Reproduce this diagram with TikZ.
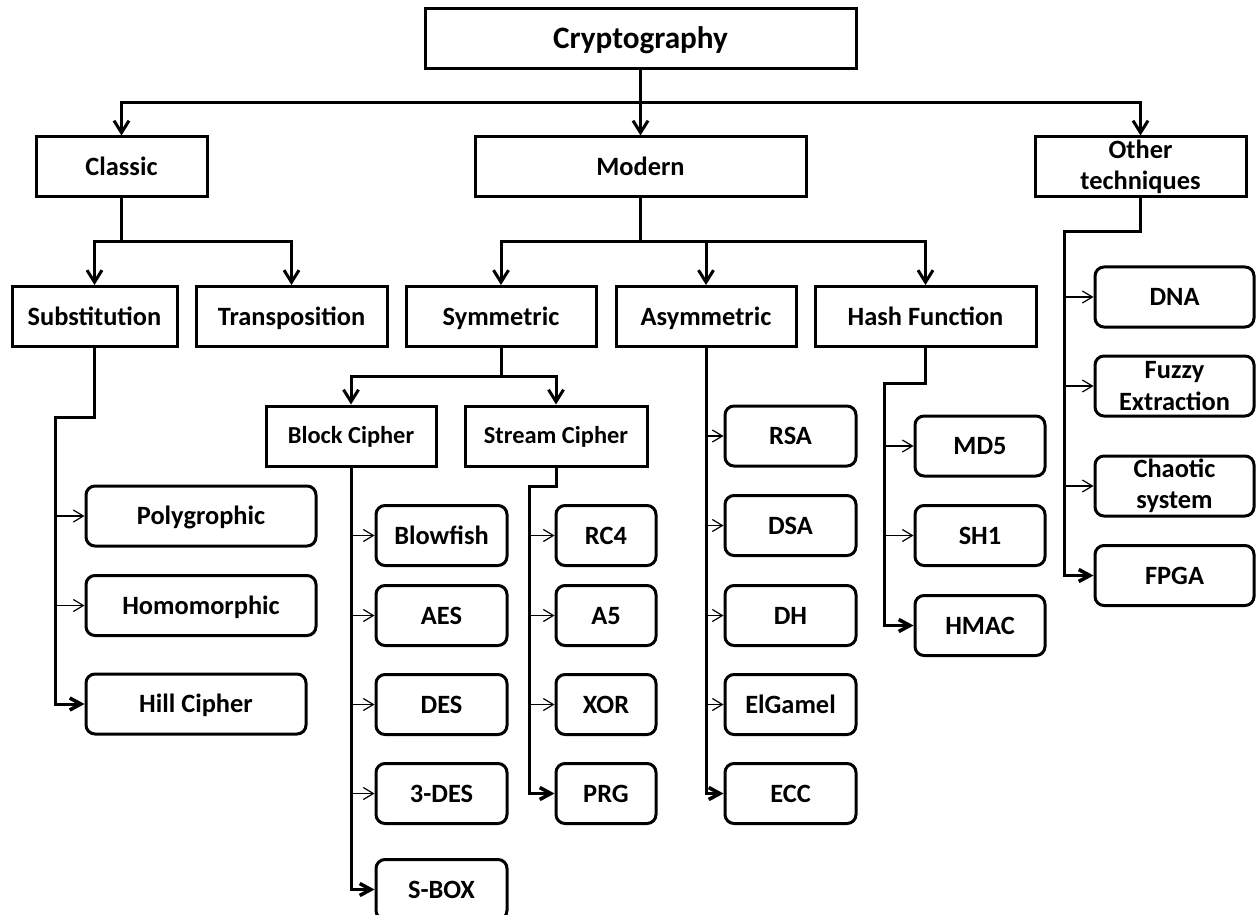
\documentclass[tikz,border=0pt]{standalone}
\usepackage{fontspec}
\setmainfont{Carlito}
\usetikzlibrary{arrows.meta}

\begin{document}
\begin{tikzpicture}[x=0.5pt,y=-0.5pt,
  box/.style={draw,line width=1.5pt,minimum height=30pt,inner sep=1pt,align=center,text height=8.5pt,text depth=0pt,font=\fontsize{13.2}{15.6}\selectfont\bfseries},
  leaf/.style={box,rounded corners=4.5pt},
  two/.style={text height={},text depth={}},
  small/.style={text height=7.9pt,font=\fontsize{12.2}{14.6}\selectfont\bfseries},
  trunk/.style={line width=1.5pt},
  down/.style={trunk,-{Straight Barb[length=6pt,width=7.5pt]}},
  last/.style={trunk,-{Straight Barb[length=5.5pt,width=6pt,line width=1.8pt]}},
  twig/.style={line width=0.6pt,-{Straight Barb[length=5pt,width=6pt]}}]
\useasboundingbox (0,0) rectangle (1256,914);
% levels 0 and 1
\node[box,minimum width=215.5pt,text height=10pt,font=\fontsize{15.6}{18}\selectfont\bfseries] (crypto) at (640.5,39) {Cryptography};
\node[box,minimum width=85.5pt] (classic) at (121.5,167) {Classic};
\node[box,minimum width=165.5pt] (modern) at (640.5,167) {Modern};
\node[box,two,minimum width=105.5pt] (other) at (1140.5,167) {Other\\techniques};
% level 2
\node[box,minimum width=82.5pt] (subst) at (94.5,316.5) {Substitution};
\node[box,minimum width=95.5pt] (transp) at (291.5,316.5) {Transposition};
\node[box,minimum width=95pt] (symm) at (501,316.5) {Symmetric};
\node[box,minimum width=90pt] (asymm) at (706,316.5) {Asymmetric};
\node[box,minimum width=110.5pt] (hash) at (925.5,316.5) {Hash Function};
\node[box,small,minimum width=85pt] (block) at (351,436) {Block Cipher};
\node[box,small,minimum width=91pt] (stream) at (556,436) {Stream Cipher};
% leaves
\node[leaf,minimum width=115pt] (poly) at (201,516) {Polygrophic};
\node[leaf,minimum width=115pt] (homo) at (201,605.5) {Homomorphic};
\node[leaf,minimum width=110pt] (hill) at (196,704) {Hill Cipher};
\node[leaf,minimum width=65.5pt] (blow) at (441.5,535.5) {Blowfish};
\node[leaf,minimum width=65.5pt] (aes) at (441.5,615.5) {AES};
\node[leaf,minimum width=65.5pt] (des) at (441.5,704.5) {DES};
\node[leaf,minimum width=65.5pt] (tdes) at (441.5,793.5) {3-DES};
\node[leaf,minimum width=65.5pt] (sbox) at (441.5,889.5) {S-BOX};
\node[leaf,minimum width=50pt] (rc4) at (606,535.5) {RC4};
\node[leaf,minimum width=50pt] (a5) at (606,615.5) {A5};
\node[leaf,minimum width=50pt] (xor) at (606,704.5) {XOR};
\node[leaf,minimum width=50pt] (prg) at (606,793.5) {PRG};
\node[leaf,minimum width=65.5pt] (rsa) at (790.5,436) {RSA};
\node[leaf,minimum width=65.5pt] (dsa) at (790.5,525.5) {DSA};
\node[leaf,minimum width=65.5pt] (dh) at (790.5,615.5) {DH};
\node[leaf,minimum width=65.5pt] (elg) at (790.5,704.5) {ElGamel};
\node[leaf,minimum width=65.5pt] (ecc) at (790.5,793.5) {ECC};
\node[leaf,minimum width=65pt] (md5) at (980,446) {MD5};
\node[leaf,minimum width=65pt] (sh1) at (980,535.5) {SH1};
\node[leaf,minimum width=65pt] (hmac) at (980,625.5) {HMAC};
\node[leaf,minimum width=79.5pt] (dna) at (1174.5,297) {DNA};
\node[leaf,two,minimum width=79.5pt] (fuzzy) at (1174.5,386) {Fuzzy\\Extraction};
\node[leaf,two,minimum width=79.5pt] (chaotic) at (1174.5,486) {Chaotic\\system};
\node[leaf,minimum width=79.5pt] (fpga) at (1174.5,575.5) {FPGA};
% branching points
\coordinate (t0) at (640.5,103);
\coordinate (t1) at (640.5,242);
\coordinate (t2) at (121.5,242);
\coordinate (t3) at (501,376);
\coordinate (s1) at (55,417);
\coordinate (s2) at (529,486);
\coordinate (s3) at (884,383);
\coordinate (s4) at (1064,232);
% tree
\draw[trunk] (crypto) -- (t0);
\draw[down] (t0) -| (classic);
\draw[down] (t0) -- (modern);
\draw[down] (t0) -| (other);
\draw[trunk] (classic) -- (t2);
\draw[down] (t2) -| (subst);
\draw[down] (t2) -| (transp);
\draw[trunk] (modern) -- (t1);
\draw[down] (t1) -| (symm);
\draw[down] (t1) -| (asymm);
\draw[down] (t1) -| (hash);
\draw[trunk] (symm) -- (t3);
\draw[down] (t3) -| (block);
\draw[down] (t3) -| (stream);
% lists
\draw[last] (subst) |- (s1) |- (hill);
\foreach \n in {poly,homo} \draw[twig] (s1 |- \n) -- (\n);
\draw[last] (block) |- (sbox);
\foreach \n in {blow,aes,des,tdes} \draw[twig] (block |- \n) -- (\n);
\draw[last] (stream) |- (s2) |- (prg);
\foreach \n in {rc4,a5,xor} \draw[twig] (s2 |- \n) -- (\n);
\draw[last] (asymm) |- (ecc);
\foreach \n in {rsa,dsa,dh,elg} \draw[twig] (asymm |- \n) -- (\n);
\draw[last] (hash) |- (s3) |- (hmac);
\foreach \n in {md5,sh1} \draw[twig] (s3 |- \n) -- (\n);
\draw[last] (other) |- (s4) |- (fpga);
\foreach \n in {dna,fuzzy,chaotic} \draw[twig] (s4 |- \n) -- (\n);
\end{tikzpicture}
\end{document}
